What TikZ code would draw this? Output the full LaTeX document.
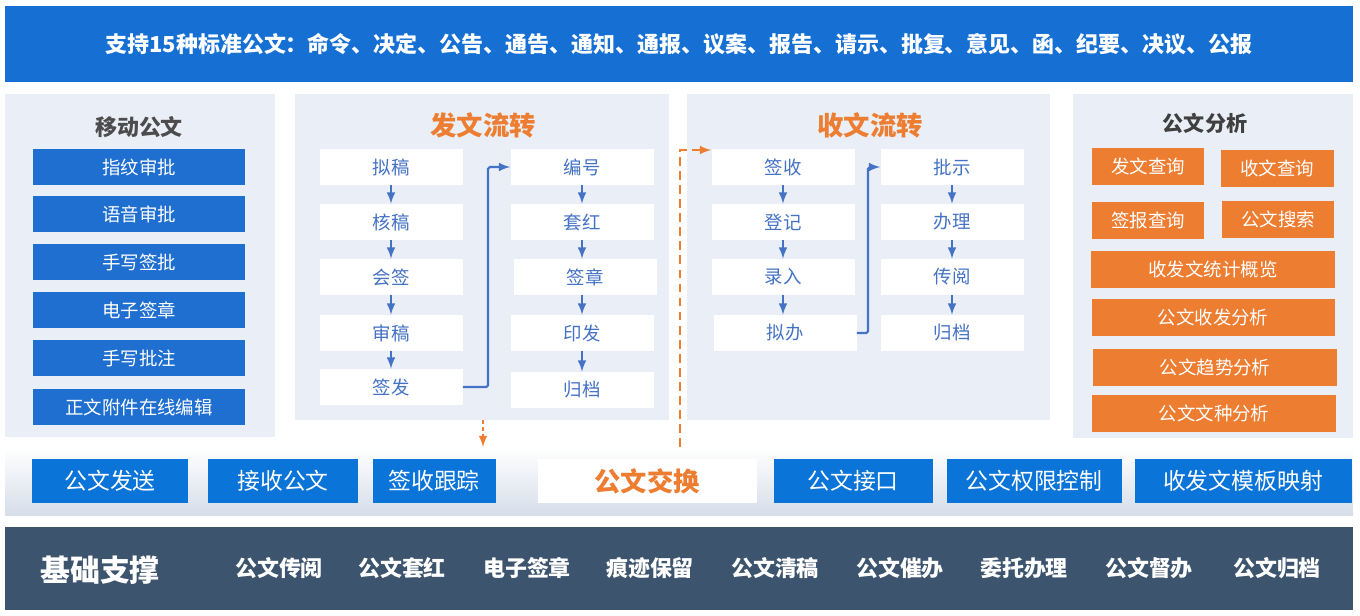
\documentclass[tikz,border=0pt]{standalone}
\usepackage{fontspec}
\setmainfont{Noto Sans CJK SC}
\newcommand{\cjkbold}{\bfseries}
\usepackage{tikz}
\definecolor{topblue}{HTML}{1670D4}
\definecolor{mobblue}{HTML}{1F6FD1}
\definecolor{exblue}{HTML}{0A74D8}
\definecolor{panel}{HTML}{E9EEF7}
\definecolor{flowtxt}{HTML}{4472C4}
\definecolor{orng}{HTML}{ED7D31}
\definecolor{slate}{HTML}{3D546E}
\definecolor{gfade}{HTML}{D6DEEA}

\begin{document}
\begin{tikzpicture}[x=0.2mm, y=-0.2mm,
        panelbox/.style = {fill=panel, draw=none},
        mob/.style = {fill=mobblue, text=white, font=\fontsize{10.5}{12}\selectfont, minimum width=42.4mm, minimum height=7.2mm, inner sep=0pt},
        flow/.style = {fill=white, text=flowtxt, font=\fontsize{10.5}{12}\selectfont, minimum width=28.6mm, minimum height=7.2mm, inner sep=0pt},
        ana/.style = {fill=orng, text=white, font=\fontsize{10.5}{12}\selectfont, minimum height=7.4mm, inner sep=0pt},
        ex/.style = {fill=exblue, text=white, font=\fontsize{13}{15}\selectfont, minimum height=8.8mm, inner sep=0pt},
        base/.style = {text=white, font=\cjkbold\fontsize{12.5}{14}\selectfont},
        ttl/.style = {text=orng, font=\cjkbold\fontsize{15}{17}\selectfont},
        ar/.style = {very thick, flowtxt, -latex},
        link/.style = {very thick, flowtxt, -latex, rounded corners=1pt}]
        \useasboundingbox (0,0) rectangle (1360,615);

        % banner and bands
        \node[fill=topblue, minimum width=269.6mm, minimum height=15.2mm, text=white, font=\cjkbold\fontsize{12.5}{14}\selectfont] (banner) at (679,44) {支持15种标准公文：命令、决定、公告、通告、通知、通报、议案、报告、请示、批复、意见、函、纪要、决议、公报};
        \shade[top color=white, bottom color=gfade] (5,447) rectangle (1353,515);
        \fill[slate] (5,527) rectangle (1353,610);

        % panels
        \fill[panelbox] (5,94) rectangle (275,437);
        \fill[panelbox] (295,94) rectangle (669,420);
        \fill[panelbox] (687,94) rectangle (1050,420);
        \fill[panelbox] (1073,94) rectangle (1353,438);

        % mobile
        \node[text=black!70, font=\cjkbold\fontsize{12.5}{14}\selectfont] (mobtitle) at (139,127) {移动公文};
        \node[mob] (m1) at (139,167) {指纹审批};
        \node[mob] (m2) at (139,214) {语音审批};
        \node[mob] (m3) at (139,262) {手写签批};
        \node[mob] (m4) at (139,310) {电子签章};
        \node[mob] (m5) at (139,358) {手写批注};
        \node[mob] (m6) at (139,407) {正文附件在线编辑};

        % send flow
        \node[ttl] (sendtitle) at (483,125) {发文流转};
        \node[flow] (s1) at (391,167) {拟稿};
        \node[flow] (s2) at (391,222) {核稿};
        \node[flow] (s3) at (391,277) {会签};
        \node[flow] (s4) at (391,333) {审稿};
        \node[flow] (s5) at (391,387) {签发};
        \node[flow] (s6) at (582,167) {编号};
        \node[flow] (s7) at (582,222) {套红};
        \node[flow] (s8) at (585,277) {签章};
        \node[flow] (s9) at (582,333) {印发};
        \node[flow] (s10) at (582,390) {归档};
        \draw[ar] (s1) -- (s2);
        \draw[ar] (s2) -- (s3);
        \draw[ar] (s3) -- (s4);
        \draw[ar] (s4) -- (s5);
        \draw[ar] (s6) -- (s7);
        \draw[ar] (s7) -- (s8.north -| s7);
        \draw[ar] (s8.south -| s9) -- (s9);
        \draw[ar] (s9) -- (s10);
        \draw[link] (s5.east) -- (488,387) -- (488,167) -- (s6.west);

        % receive flow
        \node[ttl] (recvtitle) at (870,125) {收文流转};
        \node[flow] (r1) at (783,167) {签收};
        \node[flow] (r2) at (783,222) {登记};
        \node[flow] (r3) at (783,277) {录入};
        \node[flow] (r4) at (785,333) {拟办};
        \node[flow] (r5) at (952,167) {批示};
        \node[flow] (r6) at (952,222) {办理};
        \node[flow] (r7) at (952,277) {传阅};
        \node[flow] (r8) at (952,333) {归档};
        \draw[ar] (r1) -- (r2);
        \draw[ar] (r2) -- (r3);
        \draw[ar] (r3) -- (r4.north -| r3);
        \draw[ar] (r5) -- (r6);
        \draw[ar] (r6) -- (r7);
        \draw[ar] (r7) -- (r8);
        \draw[link] (r4.east) -- (868,333) -- (868,167) -- (r5.west);

        % analysis
        \node[text=black!75, font=\cjkbold\fontsize{12}{14}\selectfont] (anatitle) at (1205,123) {公文分析};
        \node[ana, minimum width=22.4mm] (a1) at (1148,166) {发文查询};
        \node[ana, minimum width=22.6mm] (a2) at (1277,168) {收文查询};
        \node[ana, minimum width=22.4mm] (a3) at (1148,220) {签报查询};
        \node[ana, minimum width=22.4mm] (a4) at (1278,219) {公文搜索};
        \node[ana, minimum width=48.8mm] (a5) at (1213,269) {收发文统计概览};
        \node[ana, minimum width=48.6mm] (a6) at (1213,317) {公文收发分析};
        \node[ana, minimum width=48.8mm] (a7) at (1215,367) {公文趋势分析};
        \node[ana, minimum width=48.8mm] (a8) at (1214,413) {公文文种分析};

        % exchange
        \node[ex, minimum width=31mm] (e1) at (110,481) {公文发送};
        \node[ex, minimum width=30mm] (e2) at (283,481) {接收公文};
        \node[ex, minimum width=24.6mm] (e3) at (434,481) {签收跟踪};
        \node[fill=white, minimum width=43.8mm, minimum height=8.8mm, text=orng, font=\cjkbold\fontsize{15}{17}\selectfont] (exchange) at (647,481) {公文交换};
        \node[ex, minimum width=31.8mm] (e4) at (853,481) {公文接口};
        \node[ex, minimum width=35mm] (e5) at (1034,481) {公文权限控制};
        \node[ex, minimum width=43.4mm] (e6) at (1243,481) {收发文模板映射};
        \coordinate (dropA) at (483,420);
        \coordinate (dropB) at (483,447);
        \coordinate (upA) at (680,447);
        \coordinate (upB) at (680,150);
        \draw[orng, very thick, dash pattern=on 2pt off 2pt, -latex] (dropA) -- (dropB);
        \draw[orng, very thick, dash pattern=on 5pt off 3pt, -latex] (upA) -- (upB) -- (r1.north west |- upB);

        % base
        \node[text=white, font=\cjkbold\fontsize{17}{19}\selectfont] (basetitle) at (100,570) {基础支撑};
        \node[base] (b1) at (279,568) {公文传阅};
        \node[base] (b2) at (402,568) {公文套红};
        \node[base] (b3) at (527,568) {电子签章};
        \node[base] (b4) at (650,568) {痕迹保留};
        \node[base] (b5) at (775,568) {公文清稿};
        \node[base] (b6) at (900,568) {公文催办};
        \node[base] (b7) at (1024,568) {委托办理};
        \node[base] (b8) at (1149,568) {公文督办};
        \node[base] (b9) at (1277,568) {公文归档};
    \end{tikzpicture}
\end{document}
